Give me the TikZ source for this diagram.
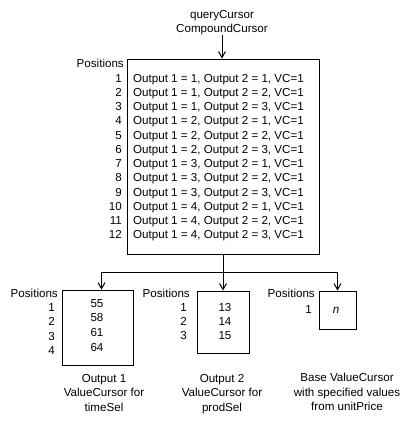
\documentclass[tikz,border=0pt]{standalone}
\usepackage{fontspec}
\setmainfont{Liberation Sans}
\usetikzlibrary{arrows.meta}
\begin{document}
\begin{tikzpicture}[x=1pt,y=-1pt,
  txt/.style={inner sep=0pt,font=\fontsize{11.6}{14}\selectfont},
  lbl/.style={txt,anchor=base},
  num/.style={txt,anchor=base east},
  row/.style={txt,anchor=base west},
  box/.style={draw,line width=1pt,inner sep=0pt,rectangle},
  arr/.style={line width=1pt,-{Straight Barb[length=6pt,width=7pt]}},
  wire/.style={line width=1pt}]
\fill[white] (0,0) rectangle (410,421);
\useasboundingbox (0,0) rectangle (410,421);

% title
\node[lbl] (t1) at (222,18) {queryCursor};
\node[lbl] (t2) at (222,32) {CompoundCursor};

% main compound cursor
\node[box,minimum width=192pt,minimum height=195pt] (main) at (223,156.5) {};
\node[num] (mpos) at (124,67) {Positions};
\foreach \i/\a/\b in {1/1/1,2/1/2,3/1/3,4/2/1,5/2/2,6/2/3,7/3/1,8/3/2,9/3/3,10/4/1,11/4/2,12/4/3}{
  \node[num] (mn\i) at (122,{82+(\i-1)*14.27}) {\i};
  \node[row] (mr\i) at (133,{82+(\i-1)*14.27}) {Output 1 = \a, Output 2 = \b, VC=1};
}

% box 1
\node[box,minimum width=71pt,minimum height=75pt] (box1) at (97.5,327.5) {};
\node[num] (b1pos) at (58,297) {Positions};
\foreach \i/\v in {1/55,2/58,3/61,4/64}{
  \node[num] (b1n\i) at (55,{311+(\i-1)*14.5}) {\i};
  \node[lbl] (b1v\i) at (97,{307+(\i-1)*14.8}) {\v};
}
\node[lbl] (b1l1) at (104,382) {Output 1};
\node[lbl] (b1l2) at (104,396.5) {ValueCursor for};
\node[lbl] (b1l3) at (104,411) {timeSel};

% box 2
\node[box,minimum width=52pt,minimum height=62pt] (box2) at (223,322) {};
\node[num] (b2pos) at (190,297) {Positions};
\foreach \i/\v in {1/13,2/14,3/15}{
  \node[num] (b2n\i) at (187,{311+(\i-1)*14}) {\i};
  \node[lbl] (b2v\i) at (225,{311+(\i-1)*14}) {\v};
}
\node[lbl] (b2l1) at (222,382) {Output 2};
\node[lbl] (b2l2) at (222,396.5) {ValueCursor for};
\node[lbl] (b2l3) at (222,411) {prodSel};

% box 3
\node[box,minimum width=37pt,minimum height=38pt] (box3) at (337.5,310) {};
\node[num] (b3pos) at (315,297) {Positions};
\node[num] (b3n1) at (312,313) {1};
\node[lbl] (b3v1) at (336,313) {\itshape n};
\node[lbl] (b3l1) at (347,381.5) {Base ValueCursor};
\node[lbl] (b3l2) at (347,396) {with specified values};
\node[lbl] (b3l3) at (347,410.5) {from unitPrice};

% connectors
\draw[arr] (t2.south) -- (t2.south |- main.north);
\coordinate (j) at (main.south |- 0,272);
\coordinate (jl) at (101.5,272);
\coordinate (jr) at (box3.north |- 0,272);
\draw[wire] (main.south) -- (j);
\draw[wire] (jl) -- (jr);
\draw[arr] (jl) -- (jl |- box1.north);
\draw[arr] (j) -- (j |- box2.north);
\draw[arr] (jr) -- (box3.north);
\end{tikzpicture}
\end{document}
